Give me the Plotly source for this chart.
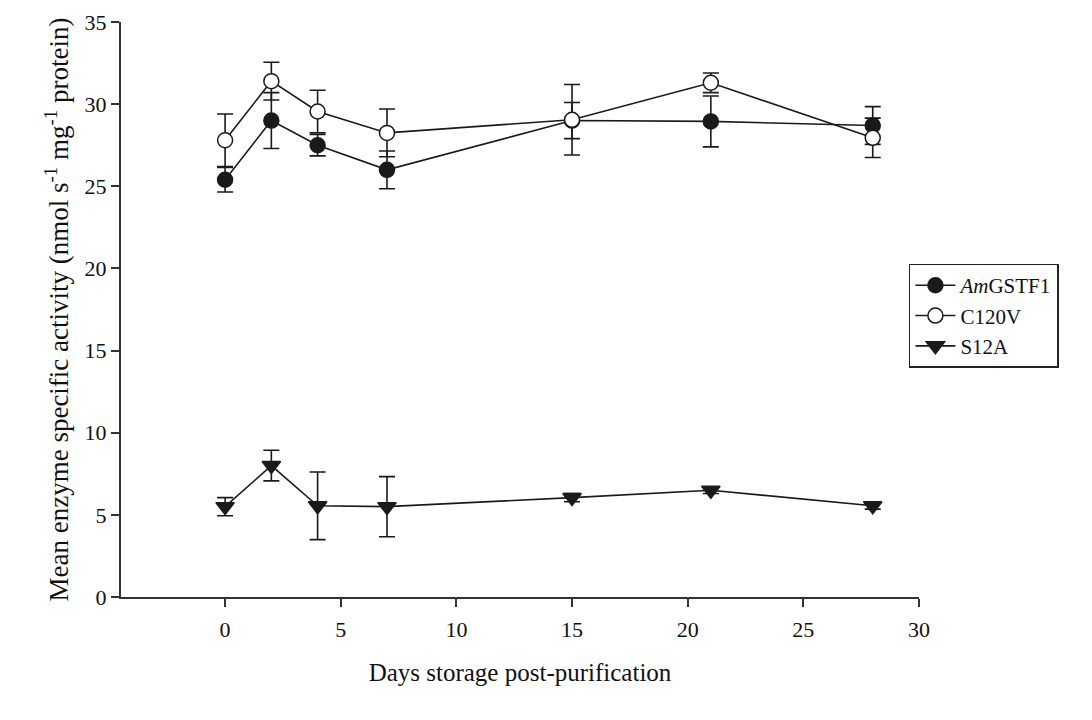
import plotly.graph_objects as go

days = [0, 2, 4, 7, 15, 21, 28]

amgstf1 = [25.4, 29.0, 27.5, 26.0, 29.0, 28.95, 28.7]
amgstf1_err = [0.75, 1.7, 0.65, 1.15, 1.1, 1.55, 1.15]

c120v = [27.8, 31.4, 29.55, 28.25, 29.05, 31.3, 27.95]
c120v_err = [1.6, 1.15, 1.3, 1.45, 2.15, 0.6, 1.2]

s12a = [5.5, 8.0, 5.55, 5.5, 6.05, 6.5, 5.55]
s12a_err = [0.55, 0.93, 2.06, 1.83, 0.25, 0.2, 0.2]

x_ticks = [0, 5, 10, 15, 20, 25, 30]
y_ticks = [0, 5, 10, 15, 20, 25, 30, 35]

LC = "#1a1a1a"
FONT = "Liberation Serif"

def series(name, y, err, symbol, fill):
    return go.Scatter(
        x=days, y=y, name=name, mode="lines+markers",
        line=dict(color=LC, width=1.6),
        marker=dict(symbol=symbol, size=15 if "circle" in symbol else 16,
                    color=fill, line=dict(color=LC, width=1.5)),
        error_y=dict(type="data", array=err, visible=True,
                     color=LC, thickness=1.6, width=8),
        cliponaxis=False,
    )

fig = go.Figure()
fig.add_trace(series("<i>Am</i>GSTF1", amgstf1, amgstf1_err, "circle", LC))
fig.add_trace(series("C120V", c120v, c120v_err, "circle", "white"))
fig.add_trace(series("S12A", s12a, s12a_err, "triangle-down", LC))

axis_common = dict(
    showline=True, linecolor="#333", linewidth=2,
    ticks="outside", ticklen=8, tickwidth=1.5, tickcolor="#333",
    showgrid=False, zeroline=False,
    tickfont=dict(family=FONT, size=22, color="#111"),
)

fig.update_layout(
    width=1092, height=720,
    margin=dict(l=113, r=181, t=14, b=131, autoexpand=False),
    paper_bgcolor="white", plot_bgcolor="white",
    font=dict(family=FONT, color="#111"),
    xaxis=dict(range=[-4.5, 30], tickvals=x_ticks, ticklabelstandoff=4,
               title=dict(text="Days storage post-purification",
                          font=dict(family=FONT, size=25), standoff=22),
               **axis_common),
    yaxis=dict(range=[0, 35], tickvals=y_ticks,
               title=dict(text="Mean enzyme specific activity (nmol s<sup>-1</sup> mg<sup>-1</sup> protein)",
                          font=dict(family=FONT, size=27), standoff=8),
               **axis_common),
    legend=dict(x=0.825, xanchor="left", y=0.645, yanchor="top",
                xref="container", yref="container",
                bordercolor="#222", borderwidth=1.5, bgcolor="white",
                font=dict(family=FONT, size=21), tracegroupgap=0,
                itemwidth=40),
    showlegend=True,
)

fig.write_html("out.html")
